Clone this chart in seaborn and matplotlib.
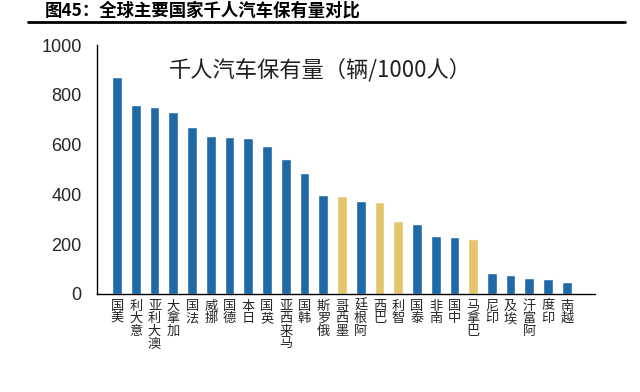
import matplotlib
matplotlib.use("Agg")
import matplotlib.pyplot as plt
import seaborn as sns
import pandas as pd

countries = ["美国", "意大利", "澳大利亚", "加拿大", "法国", "挪威", "德国", "日本",
             "英国", "马来西亚", "韩国", "俄罗斯", "墨西哥", "阿根廷", "巴西", "智利",
             "泰国", "南非", "中国", "巴拿马", "印尼", "埃及", "阿富汗", "印度", "越南"]
cars_per_1000 = [871, 759, 751, 733, 671, 636, 630, 626, 595, 543, 485, 399,
                 392, 374, 368, 294, 283, 234, 228, 220, 85, 75, 63, 59, 49]
highlight = ["墨西哥", "巴西", "智利", "巴拿马"]

BLUE = "#1f69a6"
GOLD = "#e5c56b"

sns.set_theme(style="white")
plt.rcParams["font.family"] = ["Noto Sans CJK SC", "DejaVu Sans"]

df = pd.DataFrame({"country": countries, "value": cars_per_1000})
palette = {c: (GOLD if c in highlight else BLUE) for c in countries}

fig = plt.figure(figsize=(6.4, 3.92), dpi=100)
ax = fig.add_axes([0.1516, 0.25, 0.778, 0.635])

sns.barplot(data=df, x="country", y="value", hue="country", palette=palette,
            order=countries, width=0.52, legend=False, ax=ax, saturation=1)

ax.set_ylim(0, 1000)
ax.set_xlim(-1.07, 25.5)
ax.set_yticks([0, 200, 400, 600, 800, 1000])
ax.set_yticklabels(["0", "200", "400", "600", "800", "1000"],
                   family=["Liberation Sans", "DejaVu Sans"], fontsize=13)
ax.tick_params(axis="y", direction="out", length=5, width=1, color="black", pad=6)
ax.tick_params(axis="x", length=0, pad=4)

# stacked characters, last character on top like the original
stacked = ["\n".join(reversed(c)) for c in countries]
ax.set_xticks(range(len(countries)))
ax.set_xticklabels(stacked, rotation=0, va="top", fontsize=9.5, linespacing=0.95)
ax.set_xlabel("")
ax.set_ylabel("")

sns.despine(ax=ax, top=True, right=True)
for s in ["left", "bottom"]:
    ax.spines[s].set_color("black")
    ax.spines[s].set_linewidth(1.0)

ax.text(0.448, 0.9, "千人汽车保有量（辆/1000人）", transform=ax.transAxes,
        ha="center", va="center", fontsize=16, color="#222222")

# figure title and rule below it
fig.text(0.07, 0.997, "图45：全球主要国家千人汽车保有量对比",
         ha="left", va="top", fontsize=12.5, fontweight="bold", color="black")
fig.add_artist(plt.Line2D([0.044, 0.977], [1 - 22 / 392, 1 - 22 / 392],
                          transform=fig.transFigure, color="black", linewidth=2))

fig.savefig("out.png", dpi=100)
